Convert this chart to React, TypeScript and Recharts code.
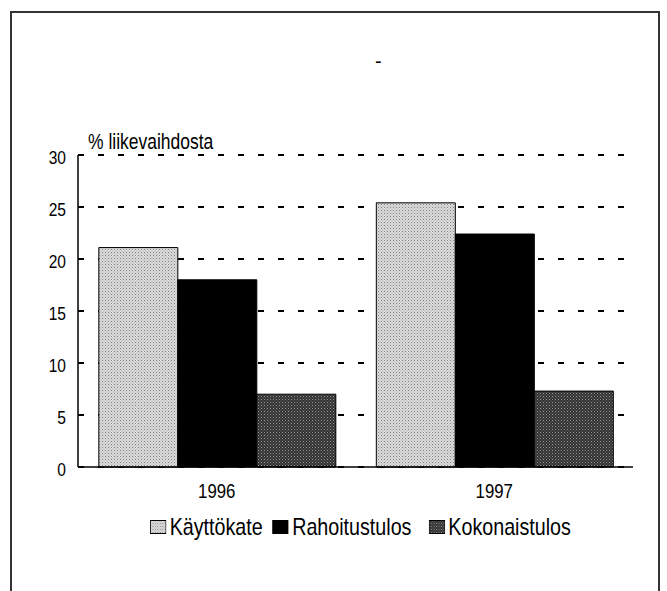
import React from "react";
import { BarChart, Bar, XAxis, YAxis, CartesianGrid } from "recharts";

const years = ["1996", "1997"];
const kayttokate = [21.1, 25.4];
const rahoitustulos = [18.0, 22.4];
const kokonaistulos = [7.0, 7.3];
const yTicks = [0, 5, 10, 15, 20, 25, 30];

const series = [
  { key: "kayttokate", name: "Käyttökate", fill: "url(#dotLight)" },
  { key: "rahoitustulos", name: "Rahoitustulos", fill: "#000" },
  { key: "kokonaistulos", name: "Kokonaistulos", fill: "url(#dotDark)" },
];

const data = years.map((y, i) => ({
  year: y,
  kayttokate: kayttokate[i],
  rahoitustulos: rahoitustulos[i],
  kokonaistulos: kokonaistulos[i],
}));

// the original uses a narrow Helvetica; squeeze Liberation Sans to match
const font = "'Liberation Sans', Arial, Helvetica, sans-serif";
const narrow = 0.82;
const legendGaps = [12, 21, 0];

function Patterns() {
  return (
    <defs>
      <pattern id="dotLight" width="3" height="3" patternUnits="userSpaceOnUse">
        <rect width="3" height="3" fill="#dcdcdc" />
        <rect width="1" height="1" fill="#808080" />
        <rect x="1.5" y="1.5" width="1" height="1" fill="#a0a0a0" />
      </pattern>
      <pattern id="dotDark" width="3" height="3" patternUnits="userSpaceOnUse">
        <rect width="3" height="3" fill="#333" />
        <rect width="1" height="1" fill="#959595" />
        <rect x="1.5" y="1.5" width="1" height="1" fill="#707070" />
      </pattern>
    </defs>
  );
}

const YTick = (props: any) => {
  const { x, y, payload } = props;
  return (
    <g>
      <line x1={x + 12} x2={x + 17} y1={y} y2={y} stroke="#000" strokeWidth={1.5} />
      <text transform={`translate(${x},${y}) scale(${narrow},1)`} x={0} y={0} dy={8.5} textAnchor="end" fontFamily={font} fontSize={19} fill="#000">
        {payload.value}
      </text>
    </g>
  );
};

const XTick = (props: any) => {
  const { x, y, payload } = props;
  return (
    <text transform={`translate(${x},${y}) scale(${narrow},1)`} x={0} y={0} dy={31} textAnchor="middle" fontFamily={font} fontSize={20.5} fill="#000">
      {payload.value}
    </text>
  );
};

export default function App() {
  return (
    <div style={{ position: "absolute", left: 0, top: 0, width: 667, height: 591, background: "#fff", overflow: "hidden" }}>
      <div style={{ position: "absolute", left: 10, top: 11, width: 646, height: 600, border: "2px solid #333", borderBottom: "none" }} />
      <div style={{ position: "absolute", left: 375, top: 50, fontFamily: font, fontSize: 20, color: "#000" }}>-</div>
      <div
        style={{
          position: "absolute",
          left: 88,
          top: 130,
          fontFamily: font,
          fontSize: 21.3,
          color: "#000",
          whiteSpace: "nowrap",
          transform: `scaleX(${narrow})`,
          transformOrigin: "left top",
        }}
      >
        % liikevaihdosta
      </div>
      <BarChart
        width={667}
        height={591}
        data={data}
        margin={{ top: 155, right: 34, left: 0, bottom: 84 }}
        barCategoryGap="7.5%"
        barGap={0}
        style={{ position: "absolute", left: 0, top: 0 }}
      >
        <Patterns />
        <CartesianGrid horizontal vertical={false} stroke="#000" strokeWidth={2} strokeDasharray="6 14" />
        <XAxis
          dataKey="year"
          axisLine={{ stroke: "#000", strokeWidth: 1.5 }}
          tickLine={false}
          tickSize={0}
          tickMargin={0}
          height={40}
          tick={<XTick />}
        />
        <YAxis
          domain={[0, 30]}
          ticks={yTicks}
          width={78}
          axisLine={{ stroke: "#000", strokeWidth: 1.5 }}
          tickLine={false}
          tickSize={0}
          tickMargin={12}
          tick={<YTick />}
        />
        {series.map((s) => (
          <Bar key={s.key} dataKey={s.key} name={s.name} fill={s.fill} stroke="#000" strokeWidth={1} isAnimationActive={false} />
        ))}
      </BarChart>
      <div
        style={{
          position: "absolute",
          left: 150,
          top: 513,
          display: "flex",
          alignItems: "center",
          fontFamily: font,
          fontSize: 24,
          color: "#000",
          whiteSpace: "nowrap",
          transform: `scaleX(${narrow})`,
          transformOrigin: "left top",
        }}
      >
        {series.map((s, i) => (
          <div key={s.key} style={{ display: "flex", alignItems: "center", marginRight: legendGaps[i] }}>
            <svg width={20} height={14} style={{ marginRight: 4 }}>
              <rect x={0.5} y={0.5} width={19} height={13} fill={s.fill} stroke="#000" strokeWidth={1} />
            </svg>
            <span>{s.name}</span>
          </div>
        ))}
      </div>
    </div>
  );
}
